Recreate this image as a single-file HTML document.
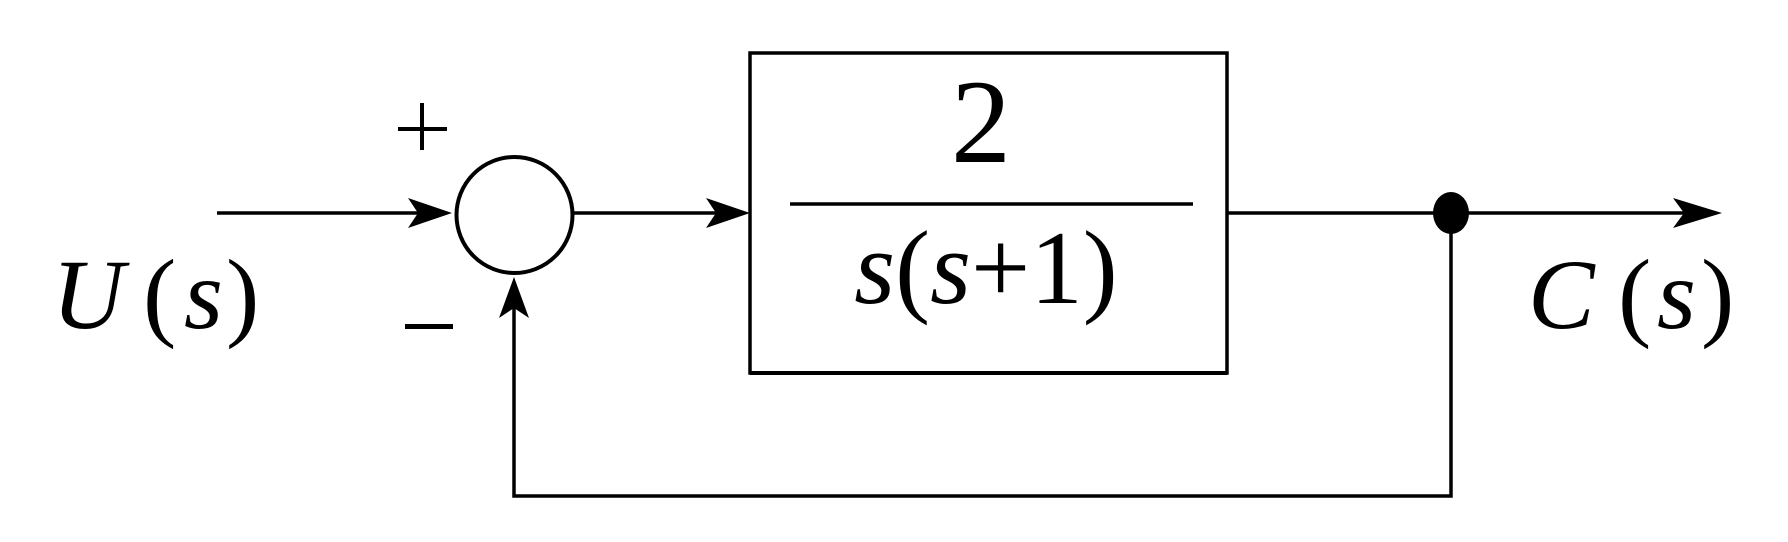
<!DOCTYPE html>
<html><head><meta charset="utf-8"><style>
html,body{margin:0;padding:0;background:#fff;width:1788px;height:542px;overflow:hidden}
svg{display:block}
text{font-family:"Liberation Serif","DejaVu Serif",serif;fill:#000}
</style></head><body>
<svg width="1788" height="542" viewBox="0 0 1788 542" xmlns="http://www.w3.org/2000/svg">
<g stroke="#000" stroke-width="3.5" fill="none">
  <line x1="217" y1="213" x2="440" y2="213"/>
  <circle cx="514.5" cy="215" r="58" stroke-width="4"/>
  <line x1="572" y1="213" x2="735" y2="213"/>
  <rect x="750" y="53" width="477" height="320"/>
  <line x1="790" y1="204" x2="1193" y2="204"/>
  <line x1="1227" y1="213" x2="1705" y2="213"/>
  <polyline points="1451,213 1451,496 514,496 514,300"/>
</g>
<rect x="750" y="371" width="477" height="4" fill="#000"/>
<path d="M452,213 L408,198 L418,213 L408,228 Z" fill="#000"/>
<path d="M750,213 L706,198 L716,213 L706,228 Z" fill="#000"/>
<path d="M1722,213 L1673,198 L1684,213 L1673,228 Z" fill="#000"/>
<path d="M514,277 L499,318 L514,308 L529,318 Z" fill="#000"/>
<ellipse cx="1451" cy="213" rx="18" ry="21" fill="#000"/>
<rect x="398" y="127" width="49" height="4" fill="#000"/>
<rect x="420" y="103" width="4" height="47" fill="#000"/>
<rect x="405" y="324" width="48" height="5" fill="#000"/>
<text x="981" y="162" font-size="120" text-anchor="middle">2</text>
<text x="986" y="303" font-size="105" text-anchor="middle"><tspan font-style="italic">s</tspan>(<tspan font-style="italic">s</tspan>+1)</text>
<text x="52" y="328" font-size="100" font-style="italic">U</text>
<text x="143" y="328" font-size="100">(</text>
<text x="184" y="328" font-size="100" font-style="italic">s</text>
<text x="226" y="328" font-size="100">)</text>
<text x="1528" y="328" font-size="100" font-style="italic">C</text>
<text x="1618" y="328" font-size="100">(</text>
<text x="1657" y="328" font-size="100" font-style="italic">s</text>
<text x="1701" y="328" font-size="100">)</text>
</svg>
</body></html>
